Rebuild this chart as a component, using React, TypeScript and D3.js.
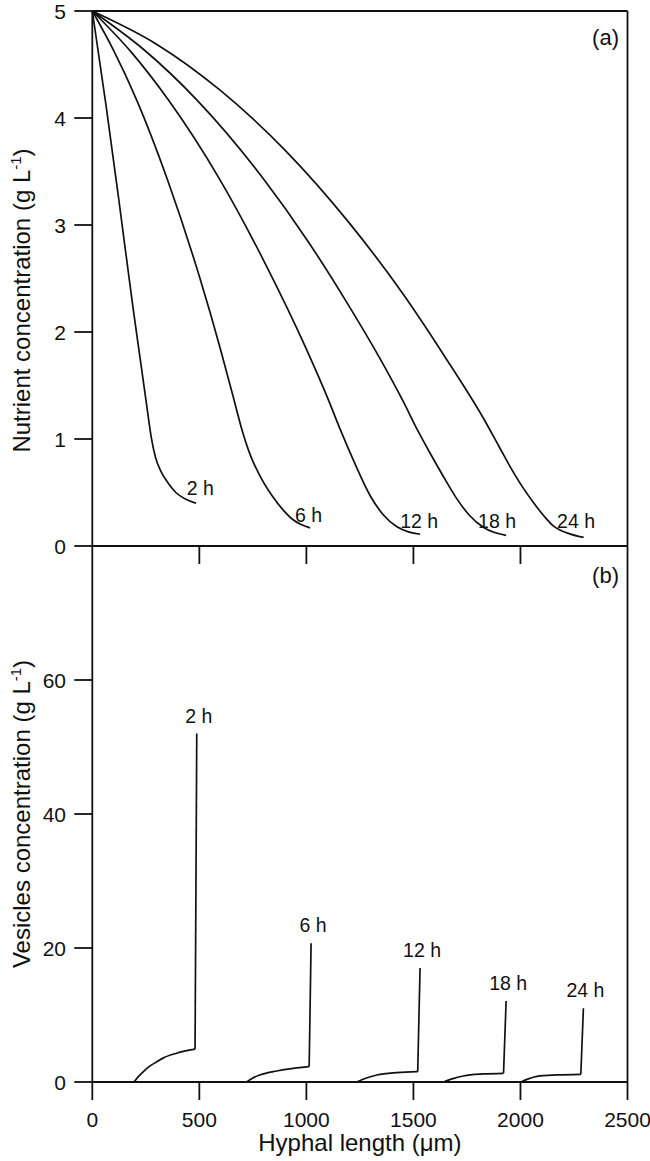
import React from "react";
import * as d3 from "d3";

// ---------- data ----------
const seriesNames = ["2 h", "6 h", "12 h", "18 h", "24 h"];

const nutrient2h: [number, number][] = [[0,5],[64,4.12],[123,3.25],[190,2.23],[230,1.66],[255,1.30],[275,1.02],[295,0.83],[320,0.70],[350,0.60],[390,0.50],[435,0.44],[485,0.40]];
const nutrient6h: [number, number][] = [[0,5],[100,4.63],[207,4.17],[350,3.43],[500,2.52],[600,1.83],[660,1.38],[700,1.08],[740,0.84],[790,0.63],[840,0.47],[890,0.34],[935,0.25],[975,0.20],[1017,0.17]];
const nutrient12h: [number, number][] = [[0,5],[180,4.62],[355,4.17],[600,3.41],[800,2.67],[1000,1.84],[1100,1.38],[1160,1.08],[1220,0.80],[1298,0.47],[1360,0.29],[1423,0.18],[1480,0.13],[1531,0.11]];
const nutrient18h: [number, number][] = [[0,5],[240,4.64],[488,4.17],[800,3.43],[1000,2.87],[1200,2.24],[1350,1.73],[1450,1.36],[1520,1.08],[1580,0.86],[1640,0.65],[1700,0.45],[1760,0.29],[1830,0.17],[1933,0.10]];
const nutrient24h: [number, number][] = [[0,5],[300,4.69],[597,4.26],[900,3.70],[1200,3.02],[1450,2.36],[1650,1.76],[1831,1.18],[1900,0.93],[1955,0.73],[2010,0.55],[2063,0.40],[2110,0.28],[2152,0.19],[2220,0.12],[2295,0.08]];
const nutrientSeries = [nutrient2h, nutrient6h, nutrient12h, nutrient18h, nutrient24h];
const nutrientLabelPos: [number, number][] = [[441,0.48],[947,0.22],[1438,0.17],[1802,0.17],[2171,0.17]];

const vesicle2h: [number, number][] = [[195,0],[215,0.8],[240,1.6],[270,2.4],[300,3.0],[332,3.6],[394,4.3],[480,4.9]];
const vesicle6h: [number, number][] = [[721,0],[750,0.6],[783,1.05],[861,1.64],[939,2.04],[1013,2.3]];
const vesicle12h: [number, number][] = [[1235,0],[1280,0.6],[1329,1.05],[1422,1.4],[1520,1.54]];
const vesicle18h: [number, number][] = [[1640,0],[1685,0.5],[1733,0.9],[1827,1.2],[1921,1.3]];
const vesicle24h: [number, number][] = [[2002,0],[2040,0.5],[2077,0.85],[2170,1.05],[2282,1.15]];
const vesicleSeries = [vesicle2h, vesicle6h, vesicle12h, vesicle18h, vesicle24h];
const vesiclePeaks: [number, number][] = [[488,52],[1022,20.7],[1531,17.0],[1933,12.1],[2294,11.0]];

const xTicks = [0, 500, 1000, 1500, 2000, 2500];
const nutrientTicks = [0, 1, 2, 3, 4, 5];
const vesicleTicks = [0, 20, 40, 60];

// ---------- layout ----------
const W = 650, H = 1161;
const left = 92.3, right = 627.5;
const topA = 11, bottomA = 546, bottomB = 1082;
const FONT = "'Liberation Sans', Arial, sans-serif";
const INK = "#111";

export default function App() {
  const x = d3.scaleLinear().domain([0, 2500]).range([left, right]);
  const yA = d3.scaleLinear().domain([0, 5]).range([bottomA, topA]);
  const yB = d3.scaleLinear().domain([0, 80]).range([bottomB, bottomA]);

  const lineA = d3.line<[number, number]>().x(d => x(d[0])).y(d => yA(d[1])).curve(d3.curveMonotoneX);
  const lineB = d3.line<[number, number]>().x(d => x(d[0])).y(d => yB(d[1])).curve(d3.curveMonotoneX);
  const lineBLin = d3.line<[number, number]>().x(d => x(d[0])).y(d => yB(d[1]));

  const tickLen = 18;
  const tickFont = 21;

  return (
    <svg width={W} height={H} style={{ position: "absolute", left: 0, top: 0, background: "#fff" }}
      fontFamily={FONT} fill={INK}>
      <rect x={0} y={0} width={W} height={H} fill="#fff" />
      {/* frame */}
      <g stroke={INK} strokeWidth={1.8} fill="none">
        <line x1={left} x2={right} y1={topA} y2={topA} />
        <line x1={right} x2={right} y1={topA} y2={bottomB} />
        <line x1={left} x2={left} y1={topA} y2={bottomB} />
        <line x1={left} x2={right} y1={bottomA} y2={bottomA} />
        <line x1={left} x2={right} y1={bottomB} y2={bottomB} />
      </g>

      {/* panel a y ticks */}
      {nutrientTicks.map(t => (
        <g key={"ya" + t}>
          <line x1={left - tickLen} x2={left} y1={yA(t)} y2={yA(t)} stroke={INK} strokeWidth={1.8} />
          <text x={66} y={yA(t)} dy="0.36em" textAnchor="end" fontSize={tickFont}>{t}</text>
        </g>
      ))}
      {/* panel a x ticks (pointing down) */}
      {xTicks.slice(1, -1).map(t => (
        <line key={"xa" + t} x1={x(t)} x2={x(t)} y1={bottomA} y2={bottomA + tickLen} stroke={INK} strokeWidth={1.8} />
      ))}

      {/* panel b y ticks */}
      {vesicleTicks.map(t => (
        <g key={"yb" + t}>
          <line x1={left - tickLen} x2={left} y1={yB(t)} y2={yB(t)} stroke={INK} strokeWidth={1.8} />
          <text x={66} y={yB(t)} dy="0.36em" textAnchor="end" fontSize={tickFont}>{t}</text>
        </g>
      ))}
      {/* panel b x ticks */}
      {xTicks.map(t => (
        <g key={"xb" + t}>
          <line x1={x(t)} x2={x(t)} y1={bottomB} y2={bottomB + tickLen} stroke={INK} strokeWidth={1.8} />
          <text x={x(t)} y={1127} textAnchor="middle" fontSize={tickFont}>{t}</text>
        </g>
      ))}

      {/* nutrient curves */}
      {nutrientSeries.map((s, i) => (
        <path key={"na" + i} d={lineA(s) || ""} fill="none" stroke={INK} strokeWidth={1.7} />
      ))}
      {nutrientLabelPos.map((p, i) => (
        <text key={"la" + i} x={x(p[0])} y={yA(p[1])} fontSize={19.5}>{seriesNames[i]}</text>
      ))}

      {/* vesicle curves */}
      {vesicleSeries.map((s, i) => (
        <g key={"vb" + i}>
          <path d={lineB(s) || ""} fill="none" stroke={INK} strokeWidth={1.7} />
          <path d={lineBLin([s[s.length - 1], vesiclePeaks[i]]) || ""} fill="none" stroke={INK} strokeWidth={1.7} />
          <text x={x(vesiclePeaks[i][0]) + 2} y={yB(vesiclePeaks[i][1]) - 11} textAnchor="middle" fontSize={19.5}>{seriesNames[i]}</text>
        </g>
      ))}

      {/* panel labels */}
      <text x={619} y={45} textAnchor="end" fontSize={22}>(a)</text>
      <text x={619} y={583} textAnchor="end" fontSize={22}>(b)</text>

      {/* axis titles */}
      <text transform={`translate(30, ${(topA + bottomA) / 2 + 22}) rotate(-90)`} textAnchor="middle" fontSize={24}>
        Nutrient concentration (g L<tspan fontSize={15} dy={-9}>-1</tspan><tspan dy={9}>)</tspan>
      </text>
      <text transform={`translate(30, ${(bottomA + bottomB) / 2}) rotate(-90)`} textAnchor="middle" fontSize={24}>
        Vesicles concentration (g L<tspan fontSize={15} dy={-9}>-1</tspan><tspan dy={9}>)</tspan>
      </text>
      <text x={(left + right) / 2} y={1151} textAnchor="middle" fontSize={24}>Hyphal length (μm)</text>
    </svg>
  );
}
